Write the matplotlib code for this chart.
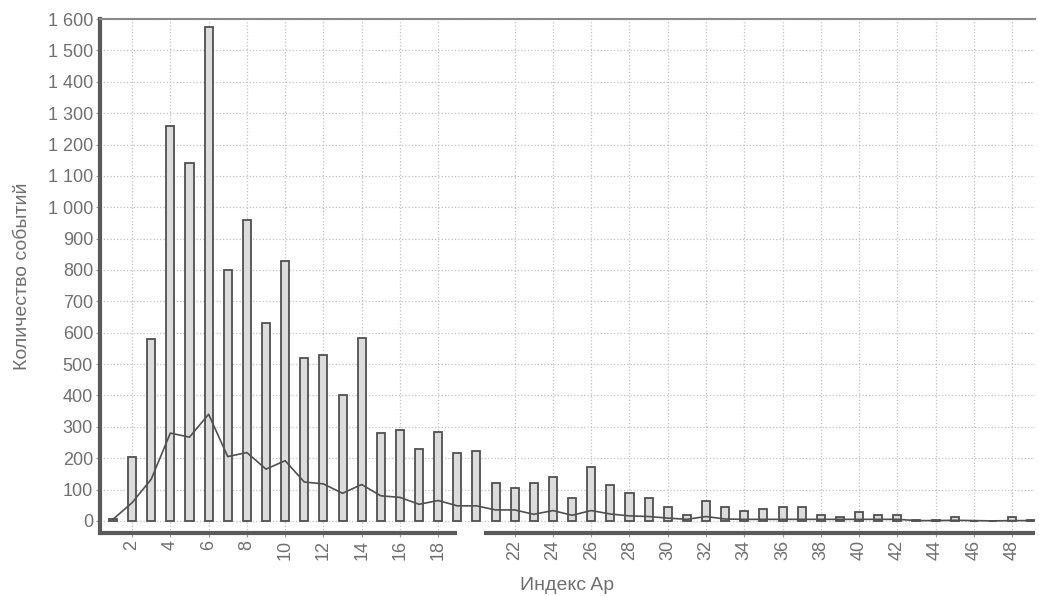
import matplotlib.pyplot as plt

plt.rcParams['font.family'] = ['Liberation Sans', 'DejaVu Sans']

# Ap index values and counts
ap_index = list(range(1, 50))
events = [5, 205, 580, 1260, 1140, 1575, 800, 960, 630, 830,
          520, 528, 400, 583, 279, 290, 228, 283, 216, 223,
          122, 106, 122, 141, 72, 171, 114, 90, 72, 44,
          19, 65, 44, 32, 38, 45, 45, 19, 12, 27,
          19, 20, 3, 3, 12, 0, 0, 12, 3]
trend = [5, 58, 133, 280, 267, 340, 205, 218, 165, 192,
         124, 118, 88, 116, 80, 75, 53, 65, 48, 48,
         35, 35, 21, 33, 18, 33, 22, 16, 14, 9,
         5, 14, 6, 5, 5, 5, 5, 5, 5, 5,
         5, 5, 1, 1, 2, 1, 0, 1, 1]
x_ticks = [t for t in range(2, 50, 2) if t != 20]
y_ticks = list(range(0, 1700, 100))
y_labels = [f"{v:,}".replace(",", " ") for v in y_ticks]

fig = plt.figure(figsize=(10.39, 5.96), dpi=100)
ax = fig.add_axes([0.0962, 0.106, 0.9, 0.862])

gray = '#707070'
ax.bar(ap_index, events, width=0.42, color='#dcdcdc', edgecolor='#505050',
       linewidth=1.3, zorder=3)
ax.plot(ap_index, trend, color='#505050', linewidth=1.2, zorder=4)

ax.set_xlim(0.32, 49.2)
ax.set_ylim(-38, 1600)
ax.set_xticks(x_ticks)
ax.set_xticklabels([str(t) for t in x_ticks], rotation=90, fontsize=13)
ax.set_yticks(y_ticks)
ax.set_yticklabels(y_labels, fontsize=13)
ax.tick_params(axis='both', colors='#9a9a9a', length=3, labelcolor=gray, pad=2)

ax.grid(True, linestyle=':', color='#c0c0c0', linewidth=0.9, zorder=0)

ax.spines['right'].set_visible(False)
ax.spines['top'].set_color('#8a8a8a')
ax.spines['top'].set_linewidth(1.5)
ax.spines['left'].set_color('#5a5a5a')
ax.spines['left'].set_linewidth(3)
ax.spines['bottom'].set_visible(False)

# bottom axis line is broken near 20 in the original
xt = ax.get_xaxis_transform()
ax.plot([0.32, 19.0], [0, 0], transform=xt, color='#5a5a5a', linewidth=3,
        clip_on=False, solid_capstyle='butt', zorder=5)
ax.plot([20.4, 49.2], [0, 0], transform=xt, color='#5a5a5a', linewidth=3,
        clip_on=False, solid_capstyle='butt', zorder=5)

ax.set_xlabel("Индекс Ap", color=gray, fontsize=14, labelpad=12)
ax.set_ylabel("Количество событий", color=gray, fontsize=14, labelpad=12)

fig.savefig("out.png", dpi=100)
